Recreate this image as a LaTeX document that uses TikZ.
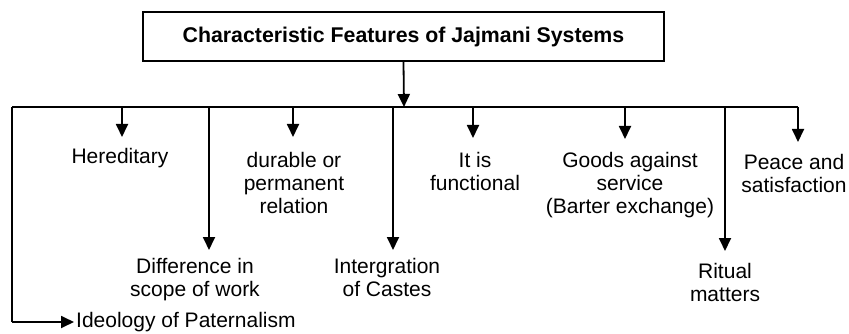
\documentclass[tikz,border=0pt]{standalone}
\usepackage{fontspec}
\setmainfont{Liberation Sans}
\usetikzlibrary{arrows.meta}
\tikzset{
  lbl/.style={inner sep=0pt, align=center, anchor=north, font=\fontsize{21}{23}\selectfont},
  ttl/.style={draw, line width=1.8pt, minimum width=521pt, minimum height=49pt, inner sep=0pt, font=\bfseries\fontsize{21.3}{24}\selectfont},
  arr/.style={line width=1.8pt, -{Triangle[width=12pt,length=13pt]}},
  ln/.style={line width=1.8pt}
}
\begin{document}
\begin{tikzpicture}[x=1pt,y=-1pt]
\useasboundingbox (0,0) rectangle (849,334);
\node[ttl] (title) at (403.5,36.5) {Characteristic Features of Jajmani Systems};
\coordinate (busL) at (12,107);
\coordinate (busR) at (798,107);
\coordinate (busC) at (404,107);
\draw[ln] (busL) -- (busR);
\draw[arr] (title.south) -- (busC);
% short drops
\coordinate (t1) at (122,137);
\coordinate (t3) at (293,137);
\coordinate (t5) at (473,138);
\coordinate (t6) at (625,139);
\coordinate (t8) at (798,142);
% long drops
\coordinate (t2) at (209,250);
\coordinate (t4) at (393,250);
\coordinate (t7) at (725,251);
\coordinate (t9) at (12,322);
\coordinate (t9e) at (74,322);
\foreach \t in {t1,t2,t3,t4,t5,t6,t7,t8} {
  \draw[arr] (\t |- busL) -- (\t);
}
\draw[ln] (busL) -- (t9);
\draw[arr] (t9) -- (t9e);
% labels
\node[lbl] (n1) at (120,148) {Hereditary};
\node[lbl] (n3) at (294,152) {durable or\\permanent\\relation};
\node[lbl] (n5) at (475,152) {It is\\functional};
\node[lbl] (n6) at (630,152) {Goods against\\service\\(Barter exchange)};
\node[lbl] (n8) at (794,154) {Peace and\\satisfaction};
\node[lbl] (n2) at (195,258) {Difference in\\scope of work};
\node[lbl] (n4) at (387,258) {Intergration\\of Castes};
\node[lbl] (n7) at (725,263) {Ritual\\matters};
\node[inner sep=0pt, anchor=west, font=\fontsize{21}{23}\selectfont] (n9) at (76,322) {Ideology of Paternalism};
\end{tikzpicture}
\end{document}
